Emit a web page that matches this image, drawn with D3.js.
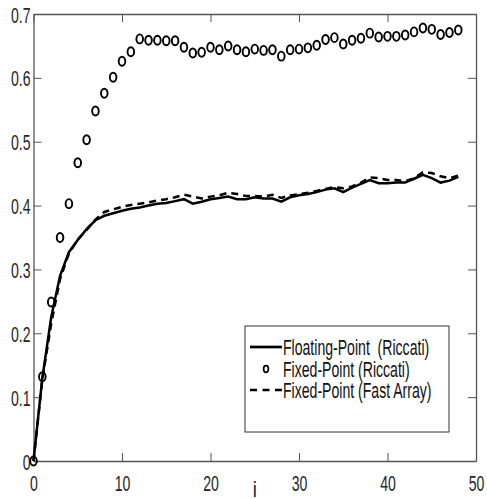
<!DOCTYPE html>
<html>
<head>
<meta charset="utf-8">
<script src="https://cdn.jsdelivr.net/npm/d3@7"></script>
<style>
  body { margin: 0; background: #fff; }
  text { font-family: "Liberation Sans", Arial, sans-serif; }
</style>
</head>
<body>
<svg id="chart"></svg>
<script>
const outerWidth = 487;
const outerHeight = 499;

// iteration index
const iVals = [0, 1, 2, 3, 4, 5, 6, 7, 8, 9, 10, 11, 12, 13, 14, 15, 16, 17, 18, 19, 20,
  21, 22, 23, 24, 25, 26, 27, 28, 29, 30, 31, 32, 33, 34, 35, 36, 37, 38, 39, 40,
  41, 42, 43, 44, 45, 46, 47, 48];

const floatingRiccati = [0, 0.130, 0.225, 0.290, 0.327, 0.346, 0.363, 0.377, 0.384, 0.388,
  0.392, 0.395, 0.397, 0.400, 0.403, 0.404, 0.407, 0.410, 0.403, 0.406,
  0.410, 0.412, 0.414, 0.410, 0.410, 0.413, 0.411, 0.411, 0.406, 0.413,
  0.416, 0.418, 0.421, 0.425, 0.427, 0.421, 0.428, 0.434, 0.440, 0.435,
  0.435, 0.436, 0.436, 0.442, 0.448, 0.443, 0.436, 0.439, 0.445];

const fixedRiccati = [0, 0.132, 0.249, 0.350, 0.403, 0.467, 0.503, 0.548, 0.576, 0.601,
  0.626, 0.641, 0.661, 0.659, 0.659, 0.658, 0.658, 0.648, 0.639, 0.640,
  0.648, 0.644, 0.650, 0.644, 0.641, 0.645, 0.643, 0.644, 0.634, 0.644,
  0.645, 0.647, 0.651, 0.660, 0.663, 0.653, 0.659, 0.662, 0.670, 0.664,
  0.665, 0.665, 0.667, 0.672, 0.678, 0.676, 0.668, 0.671, 0.675];

const fixedFastArray = [0, 0.128, 0.215, 0.285, 0.325, 0.347, 0.362, 0.378, 0.390, 0.394,
  0.398, 0.401, 0.403, 0.405, 0.408, 0.410, 0.413, 0.417, 0.414, 0.411,
  0.414, 0.416, 0.420, 0.418, 0.415, 0.415, 0.414, 0.417, 0.412, 0.416,
  0.418, 0.420, 0.423, 0.426, 0.429, 0.427, 0.430, 0.436, 0.444, 0.443,
  0.440, 0.440, 0.438, 0.443, 0.452, 0.451, 0.446, 0.443, 0.447];

const xTicks = [0, 10, 20, 30, 40, 50];
const yTicks = [0, 0.1, 0.2, 0.3, 0.4, 0.5, 0.6, 0.7];
const legendLabels = ["Floating-Point  (Riccati)", "Fixed-Point (Riccati)", "Fixed-Point (Fast Array)"];

const plot = {left: 33.5, top: 14, right: 476, bottom: 461};
const sx = 0.64; // squeezed look of the original text
const fontSize = 22;
const axisColor = "#555";

const x = d3.scaleLinear().domain([0, 50]).range([plot.left, plot.right]);
const y = d3.scaleLinear().domain([0, 0.7]).range([plot.bottom, plot.top]);

const svg = d3.select("#chart")
  .attr("width", outerWidth)
  .attr("height", outerHeight);

function styleAxis(g) {
  g.select(".domain").attr("stroke", axisColor).attr("stroke-width", 1.3);
  g.selectAll(".tick line").attr("stroke", axisColor).attr("stroke-width", 1);
}

// bottom & top
svg.append("g")
  .attr("transform", "translate(0," + plot.bottom + ")")
  .call(d3.axisBottom(x).tickValues(xTicks).tickSizeInner(-8).tickSizeOuter(0).tickPadding(0).tickFormat(d3.format("d")))
  .call(styleAxis)
  .call(g => g.selectAll("text")
    .attr("y", 0).attr("dy", null)
    .attr("transform", "translate(0,30) scale(" + sx + ",1)")
    .attr("font-size", fontSize).attr("fill", "#262626"));

svg.append("g")
  .attr("transform", "translate(0," + plot.top + ")")
  .call(d3.axisTop(x).tickValues(xTicks).tickSizeInner(-8).tickSizeOuter(0).tickFormat(""))
  .call(styleAxis);

// left & right
svg.append("g")
  .attr("transform", "translate(" + plot.left + ",0)")
  .call(d3.axisLeft(y).tickValues(yTicks).tickSizeInner(-8).tickSizeOuter(0).tickFormat(d => d === 0 ? "0" : d3.format(".1f")(d)))
  .call(styleAxis)
  .call(g => g.selectAll("text")
    .attr("x", 0).attr("dy", null).attr("y", 0)
    .attr("text-anchor", "end")
    .attr("transform", "translate(-3,8) scale(" + sx + ",1)")
    .attr("font-size", fontSize).attr("fill", "#262626"));

svg.append("g")
  .attr("transform", "translate(" + plot.right + ",0)")
  .call(d3.axisRight(y).tickValues(yTicks).tickSizeInner(-8).tickSizeOuter(0).tickFormat(""))
  .call(styleAxis);

// x label
svg.append("text")
  .attr("transform", "translate(" + x(25) + ",497) scale(0.85,1)")
  .attr("text-anchor", "middle")
  .attr("font-size", fontSize)
  .attr("fill", "#262626")
  .text("i");

// series
const lineGen = vals => d3.line().x((d, k) => x(iVals[k])).y(d => y(d))(vals);

svg.append("path")
  .attr("d", lineGen(fixedFastArray))
  .attr("fill", "none").attr("stroke", "#000").attr("stroke-width", 2.5)
  .attr("stroke-dasharray", "7,5");

svg.append("path")
  .attr("d", lineGen(floatingRiccati))
  .attr("fill", "none").attr("stroke", "#000").attr("stroke-width", 2.5);

svg.append("g").selectAll("ellipse")
  .data(fixedRiccati)
  .enter()
  .append("ellipse")
  .attr("cx", (d, k) => x(iVals[k]))
  .attr("cy", d => y(d))
  .attr("rx", 3.3).attr("ry", 4.5)
  .attr("fill", "none").attr("stroke", "#000").attr("stroke-width", 1.9);

// legend
const legend = svg.append("g");
legend.append("rect")
  .attr("x", 245).attr("y", 326).attr("width", 204).attr("height", 106)
  .attr("fill", "#fff").attr("stroke", "#333").attr("stroke-width", 1);

const rowY = [347, 369, 390];
legend.append("line")
  .attr("x1", 250).attr("x2", 282).attr("y1", rowY[0]).attr("y2", rowY[0])
  .attr("stroke", "#000").attr("stroke-width", 2.7);
legend.append("ellipse")
  .attr("cx", 266).attr("cy", rowY[1]).attr("rx", 2.4).attr("ry", 3.3)
  .attr("fill", "none").attr("stroke", "#000").attr("stroke-width", 1.7);
legend.append("line")
  .attr("x1", 250).attr("x2", 282).attr("y1", rowY[2]).attr("y2", rowY[2])
  .attr("stroke", "#000").attr("stroke-width", 2.5).attr("stroke-dasharray", "7,5.5");

legend.selectAll("text.lbl")
  .data(legendLabels)
  .enter()
  .append("text")
  .attr("class", "lbl")
  .attr("transform", (d, k) => "translate(283," + (rowY[k] + 7.8) + ") scale(" + sx + ",1)")
  .attr("font-size", fontSize)
  .attr("fill", "#111")
  .attr("xml:space", "preserve")
  .style("white-space", "pre")
  .text(d => d);
</script>
</body>
</html>
